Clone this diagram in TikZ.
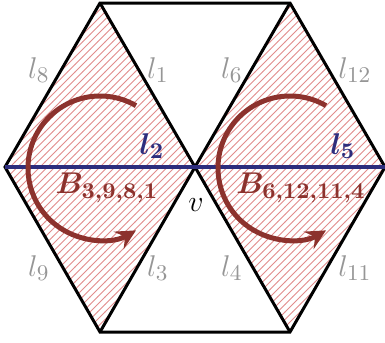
\documentclass[tikz,border=0pt]{standalone}
\usepackage{amsmath,bm}
\usetikzlibrary{patterns,arrows.meta,calc}
\definecolor{hatchred}{RGB}{225,140,140}
\definecolor{arcred}{RGB}{140,50,45}
\definecolor{navy}{RGB}{45,45,125}
\definecolor{lgray}{RGB}{150,150,150}
\begin{document}
\begin{tikzpicture}[x=0.4pt,y=-0.4pt,
  edge/.style={line width=1.2pt,black},
  hatch/.style={pattern=north east lines,pattern color=hatchred},
  axis/.style={line width=1.6pt,navy},
  turn/.style={line width=2pt,arcred,-{Stealth[length=8pt,width=8pt,inset=3pt]}},
  glab/.style={lgray,font=\fontsize{12.5}{15}\selectfont},
  blab/.style={navy,font=\fontsize{13}{16}\selectfont},
  rlab/.style={arcred,font=\fontsize{13.2}{16}\selectfont},
  vlab/.style={font=\fontsize{12.5}{15}\selectfont}]
\useasboundingbox (0,0) rectangle (385,342);
\coordinate (a) at (5,167);
\coordinate (t1) at (100,3);
\coordinate (v) at (195,167);
\coordinate (b1) at (100,332);
\coordinate (t2) at (290,3);
\coordinate (b2) at (290,332);
\coordinate (r) at (385,167);
\coordinate (c1) at (100,168);
\coordinate (c2) at (290,168);
\fill[hatch] (a) -- (t1) -- (v) -- (b1) -- cycle;
\fill[hatch] (v) -- (t2) -- (r) -- (b2) -- cycle;
\draw[edge,line join=miter] (a) -- (t1) -- (t2) -- (r) -- (b2) -- (b1) -- cycle;
\draw[edge] (t1) -- (v) -- (b1);
\draw[edge] (t2) -- (v) -- (b2);
\draw[axis] (a) -- (r);
\draw[turn] ($(c1)+(-60:72)$) arc[start angle=-60,end angle=-300,radius=72];
\draw[turn] ($(c2)+(-60:72)$) arc[start angle=-60,end angle=-300,radius=72];
\node[glab] (l8) at (39,70) {$l_8$};
\node[glab] (l1) at (158,70) {$l_1$};
\node[glab] (l6) at (232,70) {$l_6$};
\node[glab] (l12) at (355,70) {$l_{12}$};
\node[glab] (l9) at (39,268) {$l_9$};
\node[glab] (l3) at (158,268) {$l_3$};
\node[glab] (l4) at (232,268) {$l_4$};
\node[glab] (l11) at (355,268) {$l_{11}$};
\node[blab] (l2) at (152,146) {$\bm{l_2}$};
\node[blab] (l5) at (343,146) {$\bm{l_5}$};
\node[rlab] (bl) at (107,188) {$\bm{B_{3,9,8,1}}$};
\node[rlab] (br) at (301,188) {$\bm{B_{6,12,11,4}}$};
\node[vlab] (vl) at (196,205) {$v$};
\end{tikzpicture}
\end{document}
